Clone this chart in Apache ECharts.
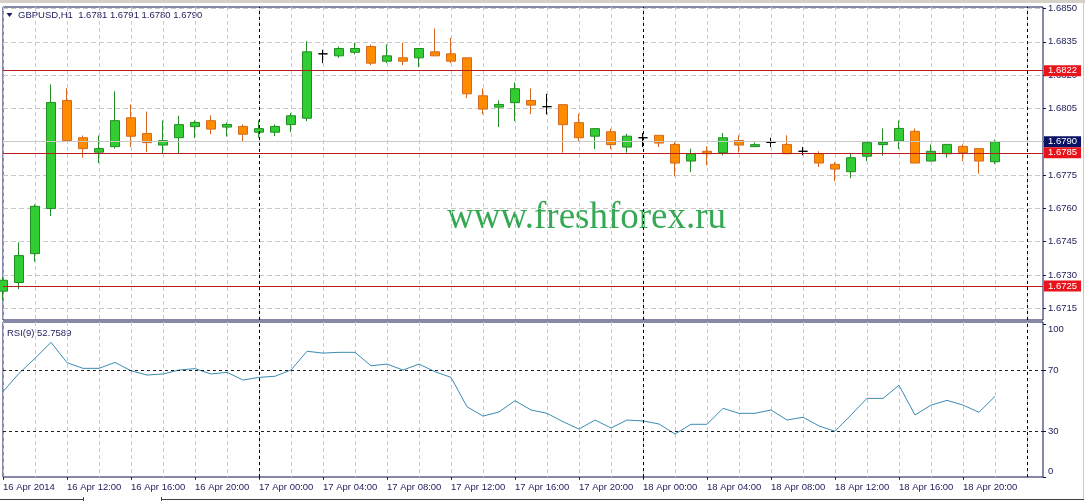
<!DOCTYPE html>
<html>
<head>
<meta charset="utf-8">
<script src="https://cdn.jsdelivr.net/npm/echarts@6/dist/echarts.min.js"></script>
<style>
html, body { margin: 0; padding: 0; background: #fff; }
#chart { width: 1085px; height: 501px; }
</style>
</head>
<body>
<div id="chart"></div>
<script>
// GBPUSD H1, 16 Apr 2014 08:00 .. 18 Apr 22:00
const symbol = 'GBPUSD'
const period = 'H1'
const days = ['16 Apr', '17 Apr', '18 Apr', '19 Apr']
const firstHour = 8
const slotCount = 66 // bars + empty space up to the right edge

const opens = [1.67227, 1.67266, 1.67396, 1.67599, 1.68086, 1.67918, 1.67853, 1.67878, 1.68008, 1.67937,
  1.67885, 1.67918, 1.67968, 1.67995, 1.67966, 1.67969, 1.67943, 1.67943, 1.67977, 1.68006,
  1.68296, 1.68287, 1.68303, 1.68329, 1.68263, 1.68278, 1.68278, 1.68305, 1.68296, 1.68278,
  1.68107, 1.68056, 1.68076, 1.68086, 1.68058, 1.68067, 1.67986, 1.67925, 1.67945, 1.67876,
  1.67918, 1.67929, 1.67888, 1.67813, 1.67857, 1.67851, 1.67906, 1.67878, 1.67897, 1.67888,
  1.67857, 1.67846, 1.67798, 1.67765, 1.67835, 1.67887, 1.67903, 1.67947, 1.67813, 1.67846,
  1.67879, 1.67869, 1.6781]
const highs = [1.67290, 1.67447, 1.67618, 1.68158, 1.68141, 1.67928, 1.67928, 1.68127, 1.68068, 1.68036,
  1.67996, 1.68017, 1.67996, 1.68019, 1.67987, 1.67978, 1.67996, 1.67978, 1.68029, 1.68353,
  1.68314, 1.68329, 1.68346, 1.68338, 1.68338, 1.68346, 1.68320, 1.68410, 1.68368, 1.68278,
  1.68140, 1.68086, 1.68167, 1.68140, 1.68116, 1.68067, 1.68026, 1.67959, 1.67959, 1.67936,
  1.67939, 1.67929, 1.67898, 1.67869, 1.67879, 1.67939, 1.67929, 1.67897, 1.67918, 1.67929,
  1.67876, 1.67857, 1.67808, 1.67846, 1.67896, 1.67960, 1.67996, 1.67960, 1.67888, 1.67888,
  1.67888, 1.67869, 1.6791]
const lows = [1.67186, 1.67237, 1.67360, 1.67565, 1.67905, 1.67828, 1.67804, 1.67869, 1.67876, 1.67853,
  1.67846, 1.67846, 1.67916, 1.67934, 1.67924, 1.67902, 1.67918, 1.67925, 1.67943, 1.67993,
  1.68254, 1.68278, 1.68294, 1.68245, 1.68254, 1.68245, 1.68236, 1.68287, 1.68254, 1.68096,
  1.68023, 1.67966, 1.67993, 1.68024, 1.68023, 1.67851, 1.67903, 1.67867, 1.67867, 1.67851,
  1.67876, 1.67876, 1.67744, 1.67763, 1.67794, 1.67839, 1.67851, 1.67878, 1.67876, 1.67846,
  1.67839, 1.67786, 1.67722, 1.67736, 1.67813, 1.67837, 1.67867, 1.67804, 1.67813, 1.67828,
  1.67813, 1.67756, 1.6780]
const closes = [1.67276, 1.67387, 1.67609, 1.68077, 1.67905, 1.67869, 1.67869, 1.67995, 1.67925, 1.67896,
  1.67905, 1.67977, 1.67987, 1.67957, 1.67978, 1.67934, 1.67959, 1.67969, 1.68017, 1.68305,
  1.68296, 1.68320, 1.68320, 1.68254, 1.68287, 1.68263, 1.68320, 1.68287, 1.68263, 1.68116,
  1.68047, 1.68068, 1.68139, 1.68065, 1.68058, 1.67977, 1.67918, 1.67959, 1.67887, 1.67925,
  1.67918, 1.67894, 1.67804, 1.67846, 1.67846, 1.67918, 1.67885, 1.67887, 1.67897, 1.67846,
  1.67857, 1.67804, 1.67777, 1.67828, 1.67896, 1.67897, 1.67960, 1.67804, 1.67857, 1.67888,
  1.67851, 1.67813, 1.6790]

const rsiPeriod = 9
const rsiValues = [55.8, 67.8, 77.7, 88.2, 74.8, 71.1, 71.1, 75.0, 69.5, 66.7,
  67.4, 70.0, 70.9, 67.4, 68.5, 63.4, 65.2, 65.9, 70.0, 82.3,
  81.1, 81.6, 81.6, 72.8, 73.9, 70.0, 73.9, 68.9, 65.2, 45.9,
  39.8, 42.5, 49.9, 43.8, 41.6, 36.1, 31.3, 37.2, 32.0, 37.2,
  36.6, 34.6, 28.0, 34.4, 34.4, 44.9, 41.6, 41.6, 43.8, 37.2,
  39.0, 33.3, 29.8, 40.5, 51.4, 51.4, 60.0, 40.5, 47.0, 50.1,
  47.0, 42.3, 52.7589]

const levelPrices = [1.6822, 1.6785, 1.6725]
const bidPrice = 1.6790
const priceTicks = [1.6715, 1.6730, 1.6745, 1.6760, 1.6775, 1.6790, 1.6805, 1.6820, 1.6835, 1.6850]
const rsiTicks = [0, 30, 70, 100]
const rsiLevels = [30, 70]

// hourly category names
const categories = []
for (let k = 0; k < slotCount; k++) {
  const h = firstHour + k
  const hh = h % 24
  categories.push(days[Math.floor(h / 24)] + ' ' + (hh < 10 ? '0' + hh : hh) + ':00')
}
const daySeparators = categories.filter(c => c.slice(-5) === '00:00')

const candles = opens.map((o, i) => [o, closes[i], lows[i], highs[i]])
const last = opens.length - 1

const navy = '#1c1c5c'
const frame = '#0c1450'
const gridGray = '#c8c8c8'
const font = 'Liberation Sans'

const xAxisBase = {
  type: 'category',
  data: categories,
  boundaryGap: false,
  axisLine: { show: false },
  splitLine: {
    show: true,
    interval: (i) => i % 2 === 0,
    lineStyle: { color: gridGray, type: [4, 3] }
  }
}

const sepLines = daySeparators.map(c => ({
  xAxis: c,
  lineStyle: { color: '#000', width: 1, type: [3, 3] },
  label: { show: false }
}))

function tag(price, bg) {
  return {
    show: true,
    position: 'end',
    distance: 1,
    formatter: price.toFixed(4),
    color: '#fff',
    fontSize: 9.5,
    fontFamily: font,
    backgroundColor: bg,
    padding: [1, 4, 0, 4]
  }
}

const chart = echarts.init(document.getElementById('chart'))
chart.setOption({
  animation: false,
  backgroundColor: '#fff',
  grid: [
    { left: 3, right: 42, top: 7, height: 313, show: true, borderColor: frame, borderWidth: 1 },
    { left: 3, right: 42, top: 322, height: 155, show: true, borderColor: frame, borderWidth: 1 }
  ],
  xAxis: [
    Object.assign({}, xAxisBase, {
      gridIndex: 0,
      axisTick: { show: false },
      axisLabel: { show: false }
    }),
    Object.assign({}, xAxisBase, {
      gridIndex: 1,
      axisTick: {
        show: true,
        length: 3,
        interval: (i) => i % 4 === 0 && i <= 60,
        lineStyle: { color: frame }
      },
      axisLabel: {
        interval: (i) => i % 4 === 0 && i <= 60,
        formatter: (v, i) => (i === 0 ? '16 Apr 2014' : v),
        align: 'left',
        margin: 5,
        color: navy,
        fontSize: 9.5,
        fontFamily: font
      }
    })
  ],
  yAxis: [
    {
      type: 'value',
      gridIndex: 0,
      position: 'right',
      min: 1.67097,
      max: 1.68507,
      axisLine: { show: false },
      axisTick: { show: true, length: 3, customValues: priceTicks, lineStyle: { color: frame } },
      axisLabel: {
        customValues: priceTicks,
        formatter: (v) => v.toFixed(4),
        margin: 5,
        color: navy,
        fontSize: 9.5,
        fontFamily: font
      },
      splitLine: { show: true, lineStyle: { color: gridGray, type: [5, 3] } }
    },
    {
      type: 'value',
      gridIndex: 1,
      position: 'right',
      min: -0.16,
      max: 101.5,
      axisLine: { show: false },
      axisTick: { show: true, length: 3, customValues: rsiTicks, lineStyle: { color: frame } },
      axisLabel: {
        customValues: rsiTicks,
        formatter: (v) => (v === 100 ? '{t|100}' : v === 0 ? '{b|0}' : String(v)),
        margin: 5,
        color: navy,
        fontSize: 9.5,
        fontFamily: font,
        rich: {
          t: { padding: [10, 0, 0, 0], color: navy, fontSize: 9.5, fontFamily: font },
          b: { padding: [0, 0, 10, 0], color: navy, fontSize: 9.5, fontFamily: font }
        }
      },
      splitLine: { show: false }
    }
  ],
  graphic: [
    { type: 'rect', shape: { x: 0, y: 0, width: 1085, height: 3 }, style: { fill: '#d4d0c8' }, silent: true },
    { type: 'line', shape: { x1: 1083.5, y1: 3, x2: 1083.5, y2: 499 }, style: { stroke: '#c8c8c8', lineWidth: 1 }, silent: true },
    { type: 'line', shape: { x1: 0, y1: 499.5, x2: 83, y2: 499.5 }, style: { stroke: '#404040', lineWidth: 1 }, silent: true },
    { type: 'line', shape: { x1: 162, y1: 499.5, x2: 1084, y2: 499.5 }, style: { stroke: '#404040', lineWidth: 1 }, silent: true },
    { type: 'line', shape: { x1: 83.5, y1: 497, x2: 83.5, y2: 501 }, style: { stroke: '#404040', lineWidth: 1 }, silent: true },
    { type: 'line', shape: { x1: 161.5, y1: 497, x2: 161.5, y2: 501 }, style: { stroke: '#404040', lineWidth: 1 }, silent: true },
    {
      type: 'polygon',
      shape: { points: [[6.5, 13], [12.5, 13], [9.5, 17]] },
      style: { fill: navy },
      silent: true
    },
    {
      type: 'text',
      x: 18,
      y: 15.5,
      silent: true,
      style: {
        text: symbol + ',' + period + '  ' + [opens[last], highs[last], lows[last], closes[last]].map(v => v.toFixed(4)).join(' '),
        fill: navy,
        font: '9.5px "Liberation Sans"',
        verticalAlign: 'middle'
      }
    },
    {
      type: 'text',
      x: 7,
      y: 333,
      silent: true,
      style: {
        text: 'RSI(' + rsiPeriod + ') ' + rsiValues[last].toFixed(4),
        fill: navy,
        font: '9.5px "Liberation Sans"',
        verticalAlign: 'middle'
      }
    },
    {
      type: 'text',
      x: 447,
      y: 218,
      z: -1,
      silent: true,
      style: {
        text: 'www.freshforex.ru',
        fill: '#35a853',
        font: '37px "Liberation Serif"',
        verticalAlign: 'middle'
      }
    }
  ],
  series: [
    {
      name: symbol,
      type: 'candlestick',
      xAxisIndex: 0,
      yAxisIndex: 0,
      barWidth: 10,
      data: candles,
      itemStyle: {
        color: '#32cd32',
        color0: '#ff8c00',
        borderColor: '#228b22',
        borderColor0: '#d2691e',
        borderColorDoji: '#000',
        borderWidth: 1
      },
      z: 3
    },
    {
      // price levels, bid line and day separators of the price window
      name: 'levels',
      type: 'line',
      xAxisIndex: 0,
      yAxisIndex: 0,
      data: [],
      symbol: 'none',
      z: 4,
      markLine: {
        symbol: 'none',
        silent: true,
        animation: false,
        precision: 5,
        data: [{
          yAxis: bidPrice,
          lineStyle: { color: gridGray, width: 1, type: 'solid' },
          label: tag(bidPrice, '#0a1264')
        }].concat(levelPrices.map(p => ({
          yAxis: p,
          lineStyle: { color: '#b81c1c', width: 1, type: 'solid' },
          label: tag(p, '#e8141c')
        }))).concat(sepLines)
      }
    },
    {
      name: 'RSI(' + rsiPeriod + ')',
      type: 'line',
      xAxisIndex: 1,
      yAxisIndex: 1,
      data: rsiValues,
      showSymbol: false,
      symbol: 'none',
      lineStyle: { color: '#3c8cb4', width: 1 },
      markLine: {
        symbol: 'none',
        silent: true,
        animation: false,
        data: rsiLevels.map(v => ({
          yAxis: v,
          lineStyle: { color: '#202020', width: 1, type: [3, 3] },
          label: { show: false }
        })).concat(sepLines)
      }
    }
  ]
})
</script>
</body>
</html>
